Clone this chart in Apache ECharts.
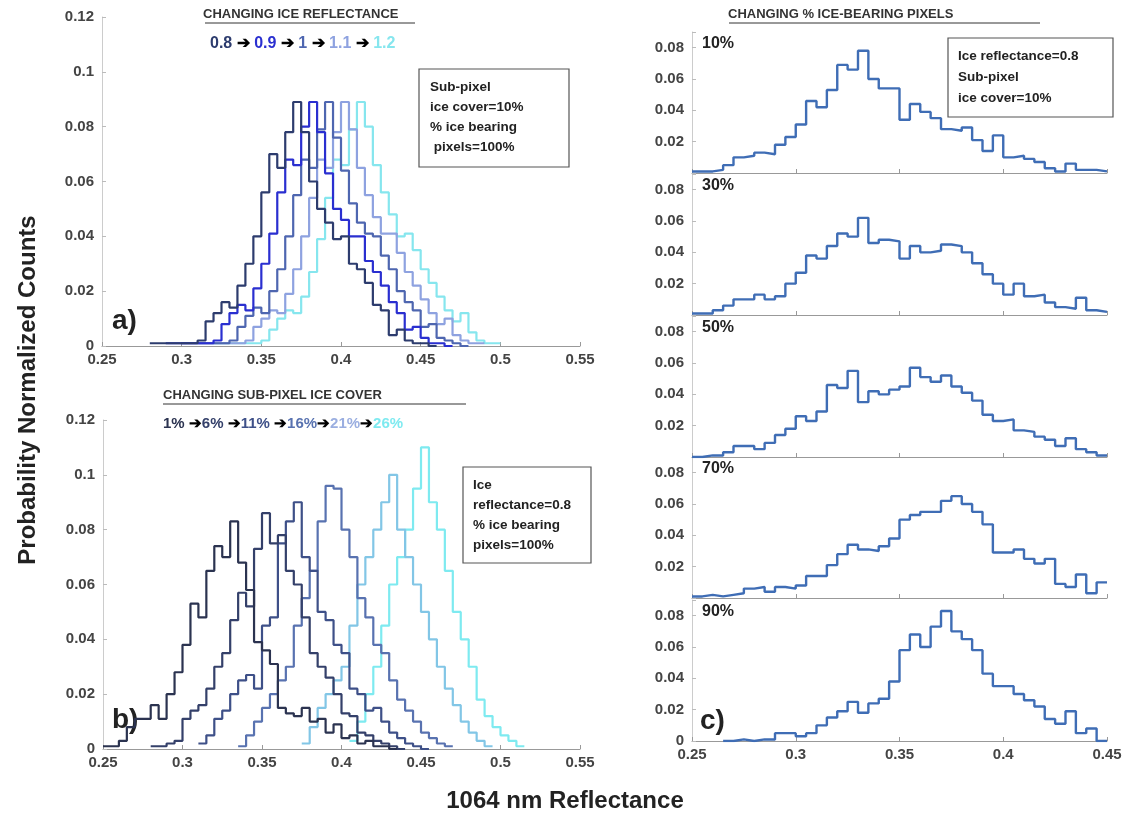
<!DOCTYPE html>
<html><head><meta charset="utf-8">
<script src="https://cdn.jsdelivr.net/npm/echarts@6/dist/echarts.min.js"></script>
<style>html,body{margin:0;padding:0;background:#fff}#c{width:1139px;height:823px}</style>
</head><body><div id="c"></div>
<script>
// Panel a: ice reflectance series, bin width 0.005
const aStarts = [0.28, 0.29, 0.30, 0.31, 0.32];
const aNames = ['0.8','0.9','1','1.1','1.2'];
const aColors = ['#2d3c6e','#2a2fd0','#4e66b0','#8ea2e0','#86e6ee'];
const aVals = [
 [0.001,0.001,0.001,0.001,0.001,0.001,0.002,0.009,0.012,0.016,0.014,0.022,0.030,0.040,0.056,0.070,0.065,0.078,0.089,0.078,0.060,0.050,0.045,0.039,0.040,0.030,0.028,0.023,0.015,0.013,0.004,0.006,0.002,0.001,0.001,0.000],
 [0.001,0.001,0.001,0.001,0.001,0.001,0.002,0.008,0.012,0.015,0.013,0.021,0.030,0.041,0.056,0.068,0.066,0.080,0.089,0.078,0.063,0.050,0.046,0.040,0.040,0.031,0.027,0.022,0.016,0.012,0.006,0.007,0.003,0.001,0.001,0.000],
 [0.001,0.001,0.001,0.001,0.001,0.001,0.002,0.007,0.011,0.014,0.012,0.020,0.028,0.040,0.055,0.068,0.065,0.079,0.089,0.076,0.064,0.052,0.045,0.041,0.040,0.033,0.028,0.020,0.016,0.013,0.007,0.008,0.003,0.002,0.001,0.000],
 [0.001,0.001,0.001,0.001,0.001,0.001,0.002,0.007,0.010,0.013,0.012,0.019,0.028,0.040,0.054,0.068,0.065,0.078,0.089,0.079,0.065,0.055,0.047,0.041,0.041,0.034,0.027,0.022,0.017,0.012,0.008,0.010,0.004,0.002,0.001,0.001],
 [0.001,0.001,0.001,0.001,0.001,0.001,0.002,0.006,0.010,0.013,0.012,0.018,0.027,0.039,0.054,0.068,0.066,0.079,0.089,0.080,0.066,0.056,0.048,0.040,0.041,0.035,0.028,0.023,0.018,0.013,0.009,0.012,0.005,0.002,0.001,0.001]
];
// Panel b: sub-pixel ice cover series
const bStarts = [0.25, 0.28, 0.31, 0.335, 0.375, 0.405];
const bNames = ['1%','6%','11%','16%','21%','26%'];
const bColors = ['#2b3350','#34406a','#3e5088','#5872b0','#82c6e6','#7eeaf0'];
const bVals = [
 [0.001,0.001,0.003,0.008,0.011,0.011,0.016,0.011,0.020,0.028,0.038,0.053,0.048,0.065,0.074,0.070,0.083,0.068,0.058,0.039,0.036,0.031,0.015,0.013,0.012,0.015,0.010,0.011,0.006,0.009,0.004,0.005,0.002,0.003,0.001,0.001,0.000],
 [0.001,0.001,0.002,0.003,0.011,0.014,0.016,0.022,0.030,0.035,0.047,0.057,0.052,0.073,0.086,0.075,0.078,0.065,0.060,0.048,0.035,0.030,0.026,0.020,0.013,0.012,0.006,0.005,0.003,0.002,0.001,0.000],
 [0.002,0.005,0.011,0.014,0.020,0.025,0.027,0.022,0.045,0.048,0.075,0.083,0.090,0.070,0.065,0.050,0.047,0.038,0.035,0.022,0.020,0.014,0.015,0.010,0.006,0.004,0.002,0.001,0.000],
 [0.001,0.005,0.010,0.015,0.020,0.025,0.030,0.045,0.055,0.065,0.083,0.096,0.095,0.080,0.070,0.055,0.048,0.038,0.035,0.025,0.018,0.014,0.010,0.006,0.004,0.002,0.001],
 [0.002,0.008,0.015,0.020,0.025,0.030,0.045,0.060,0.070,0.080,0.090,0.100,0.080,0.070,0.060,0.050,0.040,0.030,0.022,0.016,0.010,0.006,0.003,0.001],
 [0.003,0.010,0.020,0.030,0.045,0.060,0.070,0.080,0.095,0.110,0.090,0.080,0.065,0.050,0.040,0.030,0.018,0.012,0.008,0.005,0.003,0.001]
];
// Panel c: % ice-bearing pixels, bins 0.25-0.45 step 0.005
const cLabels = ['10%','30%','50%','70%','90%'];
const cVals = [
 [0.001,0.001,0.002,0.005,0.010,0.011,0.013,0.012,0.018,0.023,0.031,0.046,0.042,0.053,0.069,0.066,0.078,0.060,0.054,0.054,0.034,0.044,0.039,0.035,0.028,0.027,0.029,0.021,0.014,0.024,0.010,0.011,0.009,0.007,0.003,0.001,0.006,0.002,0.002,0.001],
 [0.001,0.001,0.003,0.006,0.010,0.010,0.013,0.010,0.012,0.020,0.027,0.038,0.036,0.044,0.052,0.050,0.062,0.046,0.048,0.047,0.036,0.044,0.040,0.041,0.045,0.044,0.040,0.033,0.026,0.020,0.013,0.020,0.012,0.013,0.008,0.005,0.004,0.011,0.003,0.002],
 [0.000,0.001,0.001,0.003,0.007,0.007,0.005,0.009,0.014,0.018,0.026,0.023,0.029,0.046,0.044,0.055,0.035,0.042,0.040,0.043,0.045,0.057,0.051,0.048,0.052,0.045,0.041,0.036,0.027,0.023,0.024,0.017,0.016,0.013,0.011,0.007,0.012,0.005,0.003,0.001],
 [0.001,0.002,0.001,0.002,0.003,0.006,0.007,0.004,0.007,0.006,0.008,0.014,0.014,0.021,0.028,0.034,0.031,0.030,0.033,0.038,0.050,0.053,0.055,0.055,0.062,0.065,0.060,0.055,0.047,0.029,0.029,0.031,0.025,0.022,0.025,0.009,0.007,0.015,0.003,0.010],
 [null,null,null,0.000,0.001,0.000,0.001,0.001,0.005,0.005,0.003,0.005,0.010,0.015,0.019,0.025,0.018,0.024,0.027,0.038,0.058,0.068,0.060,0.073,0.083,0.070,0.065,0.058,0.043,0.035,0.035,0.030,0.026,0.022,0.014,0.011,0.019,0.005,0.008,0.000]
];
const W = 0.005;
function stepData(start, vals){
  const d=[]; let last=null;
  vals.forEach((v,i)=>{ if(v===null) return; d.push([+(start+i*W).toFixed(4), v]); last=i;});
  d.push([+(start+(last+1)*W).toFixed(4), vals[last]]);
  return d;
}
const lab = {color:'#444',fontSize:15,fontWeight:'bold',fontFamily:'Liberation Sans'};
const axLine = {lineStyle:{color:'#999'}};
const grids=[], xAxes=[], yAxes=[], series=[];
function addPanel(g, xmin, xmax, xint, ymax, yint, xLab, yFmt){
  const i=grids.length; grids.push(g);
  xAxes.push({type:'value',gridIndex:i,min:xmin,max:xmax,interval:xint,axisLine:axLine,
    axisTick:{inside:true,length:4,lineStyle:{color:'#999'}},splitLine:{show:false},
    axisLabel:{show:xLab,...lab,margin:6,formatter:v=>String(+v.toFixed(2))}});
  yAxes.push({type:'value',gridIndex:i,min:0,max:ymax,interval:yint,axisLine:{show:true,lineStyle:{color:'#ccc'}},
    axisTick:{inside:true,length:4,lineStyle:{color:'#bbb'}},splitLine:{show:false},
    axisLabel:{...lab,margin:8,formatter:yFmt||(v=>String(+v.toFixed(2)))}});
  return i;
}
const ia = addPanel({left:102,top:17,width:478,height:329},0.25,0.55,0.05,0.12,0.02,true);
aVals.forEach((v,k)=>series.push({type:'line',step:'end',xAxisIndex:ia,yAxisIndex:ia,showSymbol:false,name:aNames[k],
  data:stepData(aStarts[k],v),lineStyle:{color:aColors[k],width:2.2},z:10-k}));
const ib = addPanel({left:103,top:420,width:477,height:329},0.25,0.55,0.05,0.12,0.02,true);
bVals.forEach((v,k)=>series.push({type:'line',step:'end',xAxisIndex:ib,yAxisIndex:ib,showSymbol:false,name:bNames[k],
  data:stepData(bStarts[k],v),lineStyle:{color:bColors[k],width:2.2},z:10-k}));
const cTops=[32,174,316,457,600];
cVals.forEach((v,k)=>{
  const last = k===4;
  const i = addPanel({left:692,top:cTops[k],width:415,height:141},0.25,0.45,0.05,0.09,0.02,last,
    v2=> ((v2===0 && !last) || v2>0.085)?'':String(+v2.toFixed(2)));
  series.push({type:'line',step:'end',xAxisIndex:i,yAxisIndex:i,showSymbol:false,
    data:stepData(0.25,v),lineStyle:{color:'#3f6db5',width:2.4}});
});
const bold={fontFamily:'Liberation Sans',fontWeight:'bold',fill:'#222'};
const graphic=[
  {type:'text',x:203,y:8,style:{...bold,text:'CHANGING ICE REFLECTANCE',fontSize:13,fill:'#333'}},
  {type:'line',shape:{x1:205,y1:23,x2:415,y2:23},style:{stroke:'#333',lineWidth:1}},
  {type:'text',x:210,y:36,style:{...bold,fontSize:16,rich:{
    a:{fill:'#2d3c6e',fontSize:16,fontWeight:'bold'},b:{fill:'#2a2fd0',fontSize:16,fontWeight:'bold'},
    c:{fill:'#4e66b0',fontSize:16,fontWeight:'bold'},d:{fill:'#8ea2e0',fontSize:16,fontWeight:'bold'},
    e:{fill:'#86e6ee',fontSize:16,fontWeight:'bold'},k:{fill:'#000',fontSize:16,fontWeight:'bold'}},
    text:'{a|0.8} {k|➔} {b|0.9} {k|➔} {c|1} {k|➔} {d|1.1} {k|➔} {e|1.2}'}},
  {type:'rect',shape:{x:419,y:69,width:150,height:98},style:{fill:'#fff',stroke:'#555',lineWidth:1.2}},
  {type:'text',x:430,y:77,style:{...bold,fontSize:13.5,lineHeight:20,text:'Sub-pixel\nice cover=10%\n% ice bearing\n pixels=100%'}},
  {type:'text',x:112,y:307,style:{...bold,fontSize:28,text:'a)'}},
  {type:'text',x:163,y:389,style:{...bold,text:'CHANGING SUB-PIXEL ICE COVER',fontSize:13,fill:'#333'}},
  {type:'line',shape:{x1:163,y1:404,x2:466,y2:404},style:{stroke:'#333',lineWidth:1}},
  {type:'text',x:163,y:416,style:{...bold,fontSize:15,rich:{
    a:{fill:'#2b3350',fontSize:15,fontWeight:'bold'},b:{fill:'#34406a',fontSize:15,fontWeight:'bold'},
    c:{fill:'#3e5088',fontSize:15,fontWeight:'bold'},d:{fill:'#5872b0',fontSize:15,fontWeight:'bold'},
    e:{fill:'#9aaee0',fontSize:15,fontWeight:'bold'},f:{fill:'#7eeaf0',fontSize:15,fontWeight:'bold'},k:{fill:'#000',fontSize:15,fontWeight:'bold'}},
    text:'{a|1%} {k|➔}{b|6%} {k|➔}{c|11%} {k|➔}{d|16%}{k|➔}{e|21%}{k|➔}{f|26%}'}},
  {type:'rect',shape:{x:463,y:467,width:128,height:96},style:{fill:'#fff',stroke:'#555',lineWidth:1.2}},
  {type:'text',x:473,y:475,style:{...bold,fontSize:13.5,lineHeight:20,text:'Ice\nreflectance=0.8\n% ice bearing\npixels=100%'}},
  {type:'text',x:112,y:706,style:{...bold,fontSize:28,text:'b)'}},
  {type:'text',x:728,y:8,style:{...bold,text:'CHANGING % ICE-BEARING PIXELS',fontSize:13,fill:'#333'}},
  {type:'line',shape:{x1:729,y1:23,x2:1040,y2:23},style:{stroke:'#333',lineWidth:1}},
  {type:'rect',shape:{x:948,y:38,width:165,height:79},style:{fill:'#fff',stroke:'#555',lineWidth:1.2}},
  {type:'text',x:958,y:46,style:{...bold,fontSize:13.5,lineHeight:21,text:'Ice reflectance=0.8\nSub-pixel\nice cover=10%'}},
  {type:'text',x:700,y:707,style:{...bold,fontSize:28,text:'c)'}},
  {type:'text',x:28,y:390,rotation:Math.PI/2,style:{...bold,fontSize:24,text:'Probability Normalized Counts',align:'center',verticalAlign:'middle'}},
  {type:'text',x:565,y:801,style:{...bold,fontSize:24,text:'1064 nm Reflectance',align:'center',verticalAlign:'middle'}}
];
cLabels.forEach((t,k)=>graphic.push({type:'text',x:702,y:cTops[k]+4,style:{...bold,fontSize:16,text:t}}));
const chart=echarts.init(document.getElementById('c'));
chart.setOption({animation:false,grid:grids,xAxis:xAxes,yAxis:yAxes,series,graphic});
</script></body></html>
